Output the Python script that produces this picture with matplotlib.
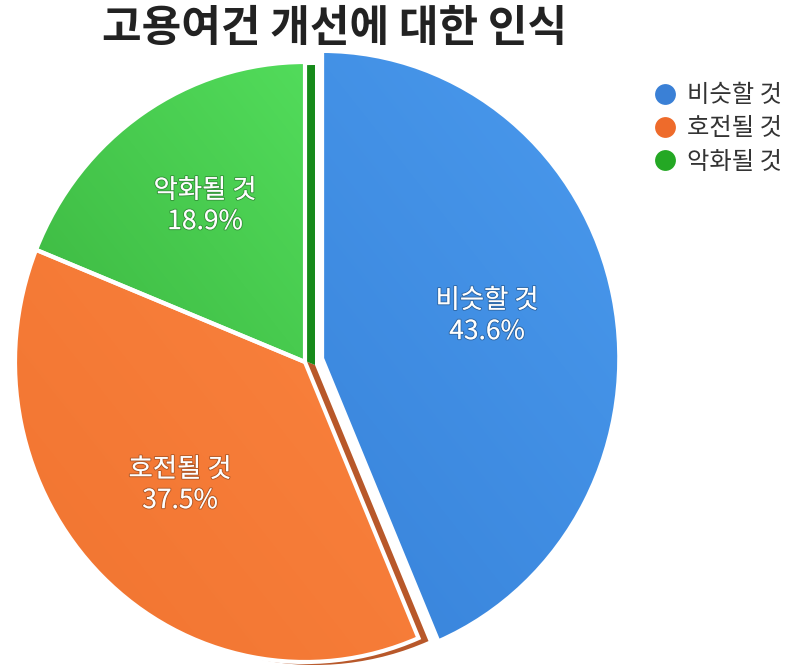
import numpy as np
import matplotlib
matplotlib.use('Agg')
import matplotlib.pyplot as plt
import matplotlib.patheffects as pe
from matplotlib.patches import Wedge
from matplotlib.lines import Line2D
from matplotlib.colors import LinearSegmentedColormap

plt.rcParams['font.family'] = ['Noto Sans CJK KR', 'DejaVu Sans']

labels = ['비슷할 것', '호전될 것', '악화될 것']
values = [43.6, 37.5, 18.9]
light = ['#4b9bee', '#ff8a46', '#60f46c']
dark = ['#3079d2', '#f0732f', '#30a232']
side = ['#2464b0', '#b8582a', '#168a1a']
legend_colors = ['#3a80d6', '#ee6b2b', '#24a824']
title = '고용여건 개선에 대한 인식'

W, H = 800, 665
fig = plt.figure(figsize=(W / 100, H / 100), dpi=100)
ax = fig.add_axes([0, 0, 1, 1])

# pie of radius 1, drawn slightly taller than wide
cx, cy = 305, 362          # centre in pixels from top-left
rx, ry = 290, 300          # pixels per unit

wedges, _ = ax.pie(values, startangle=90, counterclock=False,
                   explode=[0.06, 0, 0], radius=1, colors=dark,
                   wedgeprops=dict(linewidth=0))
wedges[0].set_radius(1.025)   # the pulled-out slice sits a bit closer

yy, xx = np.mgrid[0:1:200j, 0:1:200j]
grad = 0.55 * xx + 0.45 * yy

for i, w in enumerate(wedges):
    c = w.center
    th1, th2 = w.theta1, w.theta2
    # extruded side showing along the right-hand cut
    if i > 0:
        sh = Wedge((c[0] + 10 / rx, c[1] - 3 / ry), w.r, th1, th2,
                   facecolor=side[i], edgecolor='none', zorder=1)
        ax.add_patch(sh)
    w.set_zorder(2)
    cmap = LinearSegmentedColormap.from_list('g%d' % i, [dark[i], light[i]])
    im = ax.imshow(grad, cmap=cmap, origin='lower', interpolation='bilinear',
                   extent=[c[0] - 1.1, c[0] + 1.1, c[1] - 1.1, c[1] + 1.1],
                   zorder=3)
    im.set_clip_path(w)
    edge = Wedge(c, w.r, th1, th2, facecolor='none', edgecolor='white',
                 linewidth=3, zorder=4)
    ax.add_patch(edge)

ax.set_aspect('auto')
ax.set_xlim(-cx / rx, (W - cx) / rx)
ax.set_ylim(-(H - cy) / ry, cy / ry)
ax.axis('off')

label_pos = [(487, 316), (180, 485), (205, 206)]
for (x, y), lab, v in zip(label_pos, labels, values):
    fig.text(x / W, 1 - y / H, '%s\n%.1f%%' % (lab, v), color='white',
             fontsize=19, ha='center', va='center', linespacing=1.2,
             path_effects=[pe.withStroke(linewidth=1.5, foreground='#00000040')])

fig.text(335 / W, 1 - 28 / H, title, fontsize=31, fontweight='bold',
         color='#222222', ha='center', va='center')

handles = [Line2D([], [], marker='o', linestyle='none', markersize=15,
                  markerfacecolor=legend_colors[i], markeredgecolor='none')
           for i in range(3)]
fig.legend(handles, labels, loc='upper left',
           bbox_to_anchor=(638 / W, 1 - 70 / H), frameon=False, fontsize=17.5,
           handletextpad=0.3, labelspacing=0.3, handlelength=1.2,
           borderpad=0, labelcolor='#333333')

fig.savefig('out.png', dpi=100, facecolor='white')
